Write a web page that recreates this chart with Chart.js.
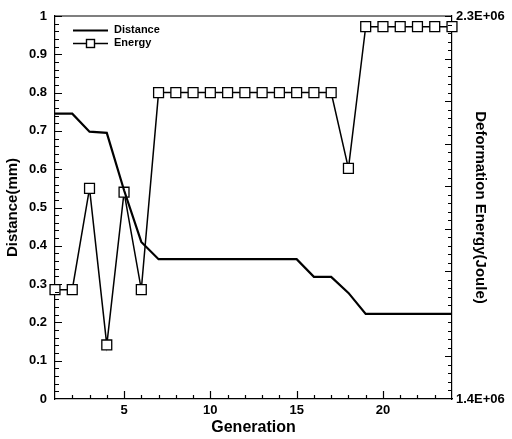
<!DOCTYPE html>
<html>
<head>
<meta charset="utf-8">
<script src="https://cdn.jsdelivr.net/npm/chart.js@4/dist/chart.umd.min.js"></script>
<style>
  html, body { margin: 0; padding: 0; background: #fff; }
  #wrap { width: 512px; height: 439px; }
</style>
</head>
<body>
<div id="wrap"><canvas id="myChart" width="512" height="439"></canvas></div>
<script>
// data
const generations = [1, 2, 3, 4, 5, 6, 7, 8, 9, 10, 11, 12, 13, 14, 15, 16, 17, 18, 19, 20, 21, 22, 23, 24]
const distance = [0.745, 0.745, 0.698, 0.695, 0.545, 0.41, 0.365, 0.365, 0.365, 0.365, 0.365, 0.365, 0.365, 0.365, 0.365, 0.319, 0.319, 0.277, 0.222, 0.222, 0.222, 0.222, 0.222, 0.222]
const energy = [1.657e6, 1.657e6, 1.895e6, 1.527e6, 1.886e6, 1.657e6, 2.12e6, 2.12e6, 2.12e6, 2.12e6, 2.12e6, 2.12e6, 2.12e6, 2.12e6, 2.12e6, 2.12e6, 2.12e6, 1.942e6, 2.275e6, 2.275e6, 2.275e6, 2.275e6, 2.275e6, 2.275e6]
const xTicks = [5, 10, 15, 20]
const energyTicks = [1.4e6, 2.3e6]

const FONT = 'Liberation Sans, Arial, sans-serif'

// inward tick marks, box top edge and the little legend
const framePlugin = {
  id: 'frame',
  afterDraw (chart) {
    const ctx = chart.ctx
    const a = chart.chartArea
    const x = chart.scales.x
    const y = chart.scales.y
    const y1 = chart.scales.y1
    ctx.save()
    ctx.strokeStyle = '#000'
    ctx.lineWidth = 1.2
    ctx.beginPath()
    ctx.moveTo(a.left, a.top)
    ctx.lineTo(a.right, a.top)
    // left axis: 0..1, minor every 0.02
    for (let i = 1; i <= 50; i++) {
      const py = Math.round(y.getPixelForValue(i / 50)) + 0.5
      const len = i % 5 === 0 ? 7 : 4
      ctx.moveTo(a.left, py)
      ctx.lineTo(a.left + len, py)
    }
    // right axis: 1.4e6..2.3e6, minor every 0.02e6
    for (let i = 1; i <= 45; i++) {
      const py = Math.round(y1.getPixelForValue(1.4e6 + i * 0.02e6)) + 0.5
      const len = i % 5 === 0 ? 7 : 4
      ctx.moveTo(a.right, py)
      ctx.lineTo(a.right - len, py)
    }
    // bottom axis
    for (let g = 2; g <= 23; g++) {
      const px = Math.round(x.getPixelForValue(g)) + 0.5
      const len = g % 5 === 0 ? 8 : 4
      ctx.moveTo(px, a.bottom)
      ctx.lineTo(px, a.bottom - len)
    }
    ctx.stroke()

    // legend
    ctx.lineWidth = 2.2
    ctx.beginPath()
    ctx.moveTo(73, 30.5)
    ctx.lineTo(108, 30.5)
    ctx.stroke()
    ctx.lineWidth = 1.4
    ctx.beginPath()
    ctx.moveTo(73, 43.5)
    ctx.lineTo(108, 43.5)
    ctx.stroke()
    ctx.fillStyle = '#fff'
    ctx.fillRect(86.5, 39.5, 8, 8)
    ctx.strokeRect(86.5, 39.5, 8, 8)
    ctx.fillStyle = '#000'
    ctx.font = 'bold 11px ' + FONT
    ctx.textBaseline = 'middle'
    ctx.fillText('Distance', 114, 30)
    ctx.fillText('Energy', 114, 43)
    ctx.restore()
  }
}

const ctx = document.getElementById('myChart').getContext('2d')
const myChart = new Chart(ctx, {
  type: 'line',
  data: {
    labels: generations,
    datasets: [{
      label: 'Distance',
      data: distance,
      yAxisID: 'y',
      borderColor: '#000',
      borderWidth: 2.2,
      pointRadius: 0,
      tension: 0,
      clip: false
    }, {
      label: 'Energy',
      data: energy,
      yAxisID: 'y1',
      borderColor: '#000',
      borderWidth: 1.5,
      pointStyle: 'rect',
      pointRadius: 7,
      pointBorderWidth: 1.3,
      pointBorderColor: '#000',
      pointBackgroundColor: '#fff',
      tension: 0,
      clip: false
    }]
  },
  options: {
    responsive: false,
    animation: false,
    events: [],
    layout: { padding: { top: 16, left: 0, right: 0, bottom: 0 } },
    plugins: {
      legend: { display: false },
      tooltip: { enabled: false }
    },
    scales: {
      x: {
        type: 'linear',
        min: 1,
        max: 24,
        grid: { display: false, drawTicks: false },
        border: { display: true, color: '#000', width: 1.2 },
        afterBuildTicks: (s) => { s.ticks = xTicks.map(v => ({ value: v })) },
        afterFit: (s) => { s.height = 40 },
        ticks: { color: '#000', font: { family: FONT, size: 13, weight: 'bold' }, padding: 4, maxRotation: 0 },
        title: { display: true, text: 'Generation', color: '#000', font: { family: FONT, size: 16, weight: 'bold' }, padding: { top: 0, bottom: 2 } }
      },
      y: {
        position: 'left',
        min: 0,
        max: 1,
        grid: { display: false, drawTicks: false },
        border: { display: true, color: '#000', width: 1.2 },
        afterFit: (s) => { s.width = 55 },
        ticks: {
          stepSize: 0.1,
          color: '#000',
          font: { family: FONT, size: 13, weight: 'bold' },
          padding: 8,
          callback: (v) => String(+v.toFixed(1))
        },
        title: { display: true, text: 'Distance(mm)', color: '#000', font: { family: FONT, size: 15, weight: 'bold' }, padding: { top: 4, bottom: 0 } }
      },
      y1: {
        position: 'right',
        min: 1.4e6,
        max: 2.3e6,
        grid: { display: false, drawTicks: false },
        border: { display: true, color: '#000', width: 1.2 },
        afterBuildTicks: (s) => { s.ticks = energyTicks.map(v => ({ value: v })) },
        afterFit: (s) => { s.width = 60 },
        ticks: {
          color: '#000',
          font: { family: FONT, size: 13, weight: 'bold' },
          padding: 4,
          callback: (v) => (v / 1e6).toFixed(1) + 'E+06'
        },
        title: { display: true, text: 'Deformation Energy(Joule)', color: '#000', font: { family: FONT, size: 15, weight: 'bold' }, padding: { top: 23, bottom: 0 } }
      }
    }
  },
  plugins: [framePlugin]
})
</script>
</body>
</html>
